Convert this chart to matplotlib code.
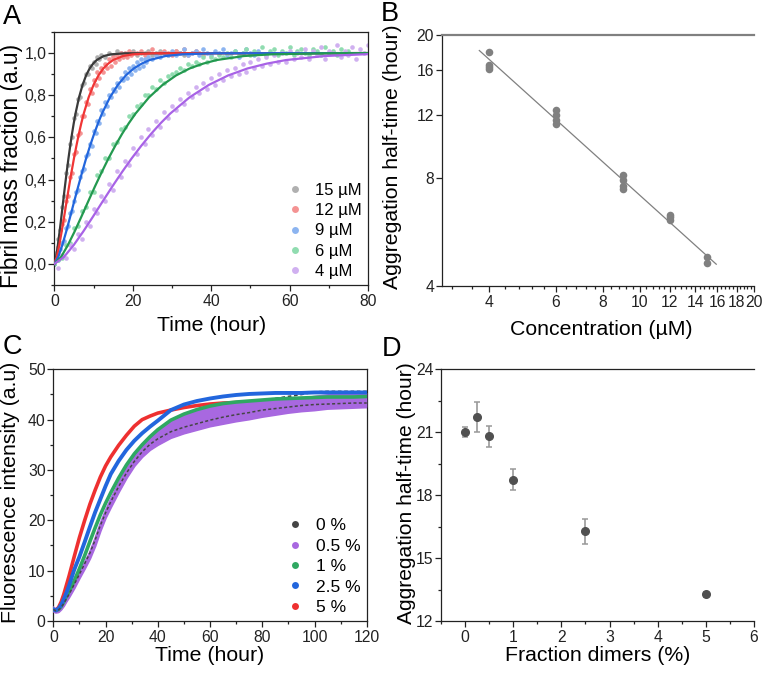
import matplotlib
matplotlib.use('Agg')
import matplotlib.pyplot as plt
from matplotlib.ticker import MultipleLocator, FixedLocator, FuncFormatter, NullFormatter
from matplotlib.lines import Line2D

plt.rcParams['font.family'] = ['Liberation Sans', 'DejaVu Sans']

# ---------------- Panel A data ----------------
conc_labels = ['15 µM', '12 µM', '9 µM', '6 µM', '4 µM']

# fitted curves (time, fraction)
fitA_t_15 = [0, .45, .9, 1.35, 1.8, 2.25, 2.7, 3.15, 3.6, 4.05, 4.5, 4.95, 5.4, 6.3, 7.2, 8.1, 9.0, 9.9, 10.8, 12.6, 14.4, 18, 80]
fitA_y_15 = [0, .033, .089, .154, .224, .296, .367, .435, .5, .560, .616, .667, .713, .790, .849, .894, .927, .950, .967, .986, .994, .999, 1.0]
fitA_t_12 = [0, .625, 1.25, 1.875, 2.5, 3.125, 3.75, 4.375, 5, 5.625, 6.25, 6.875, 7.5, 8.75, 10, 11.25, 12.5, 13.75, 15, 17.5, 20, 25, 80]
fitA_y_12 = [0, .033, .089, .154, .224, .296, .367, .435, .5, .560, .616, .667, .713, .790, .849, .894, .927, .950, .967, .986, .994, .999, 1.0]
fitA_t_9 = [0, 1.01, 2.03, 3.04, 4.05, 5.06, 6.08, 7.09, 8.1, 9.11, 10.13, 11.14, 12.15, 14.18, 16.2, 18.23, 20.25, 22.28, 24.3, 28.35, 32.4, 40.5, 80]
fitA_y_9 = [0, .033, .089, .154, .224, .296, .367, .435, .5, .560, .616, .667, .713, .790, .849, .894, .927, .950, .967, .986, .994, .999, 1.0]
fitA_t_6 = [0, 1.73, 3.45, 5.18, 6.9, 8.63, 10.35, 12.08, 13.8, 15.53, 17.25, 18.98, 20.7, 24.15, 27.6, 31.05, 34.5, 37.95, 41.4, 48.3, 55.2, 69, 80]
fitA_y_6 = [0, .033, .089, .154, .224, .296, .367, .435, .5, .560, .616, .667, .713, .790, .849, .894, .927, .950, .967, .986, .994, .999, 1.0]
fitA_t_4 = [0, 2.46, 4.93, 7.39, 9.85, 12.31, 14.78, 17.24, 19.7, 22.16, 24.63, 27.09, 29.55, 34.48, 39.4, 44.33, 49.25, 54.18, 59.1, 68.95, 78.8, 80]
fitA_y_4 = [0, .033, .089, .154, .224, .296, .367, .435, .5, .560, .616, .667, .713, .790, .849, .894, .927, .950, .967, .986, .994, .995]

# measured points
datA_t_15 = [0, .5, 1, 1.5, 2, 2.5, 3, 3.5, 4, 4.5, 5, 5.5, 6, 6.5, 7, 7.5, 8, 8.5, 9, 9.5, 10, 10.5, 11, 11.5, 12,
             13, 14, 15, 16, 17, 18, 19, 20, 21, 22, 23, 24, 25, 26, 27, 28, 29, 30, 31, 32, 33]
datA_y_15 = [0.00, 0.05, 0.12, 0.16, 0.27, 0.32, 0.43, 0.47, 0.57, 0.60, 0.69, 0.71, 0.78, 0.79, 0.85, 0.86, 0.90, 0.90,
             0.94, 0.93, 0.96, 0.95, 0.98, 0.97, 0.99,
             0.98, 1.00, 0.99, 1.01, 1.00, 0.99, 1.00, 1.01, 0.99, 1.00, 1.00, 1.01, 0.99, 1.00, 1.01, 1.00, 0.99, 1.00,
             1.01, 1.00, 0.99]
datA_t_12 = [0, .5, 1, 1.5, 2, 2.5, 3, 3.5, 4, 4.5, 5, 5.5, 6, 6.5, 7, 7.5, 8, 8.5, 9, 9.5, 10, 10.5, 11, 11.5, 12,
             12.5, 13, 13.5, 14, 14.5, 15, 15.5, 16, 16.5, 17, 17.5, 18, 18.5, 19, 19.5, 20,
             21, 22, 23, 24, 25, 26, 27, 28, 29, 30, 31, 32, 33, 34, 35, 36, 37, 38]
datA_y_12 = [0.01, 0.02, 0.08, 0.10, 0.19, 0.21, 0.30, 0.32, 0.41, 0.43, 0.52, 0.53, 0.61, 0.62, 0.70, 0.70, 0.77, 0.76,
             0.83, 0.81, 0.87, 0.85, 0.91, 0.88, 0.93, 0.91, 0.95, 0.93, 0.97, 0.94, 0.98, 0.96, 0.99, 0.97, 1.00, 0.98,
             1.00, 0.98, 1.01, 0.99, 1.00,
             1.00, 1.01, 0.99, 1.00, 1.02, 0.99, 1.00, 1.01, 1.00, 0.99, 1.01, 1.00, 1.02, 0.99, 1.00, 1.01, 1.00, 0.99]
datA_t_9 = [0, .5, 1, 1.5, 2, 2.5, 3, 3.5, 4, 4.5, 5, 5.5, 6, 6.5, 7, 7.5, 8, 8.5, 9, 9.5, 10, 10.5, 11, 11.5, 12,
            12.5, 13, 13.5, 14, 14.5, 15, 15.5, 16, 16.5, 17, 17.5, 18, 18.5, 19, 19.5, 20, 20.5, 21, 21.5, 22, 22.5,
            23, 23.5, 24,
            25, 26, 27, 28, 29, 30, 31, 32, 33, 34, 35, 36, 37, 38, 39, 40, 41, 42, 43, 44, 45, 46, 47, 48, 49, 50, 51, 52]
datA_y_9 = [0.00, 0.02, 0.02, 0.07, 0.10, 0.11, 0.17, 0.18, 0.24, 0.25, 0.30, 0.34, 0.35, 0.41, 0.44, 0.45, 0.51, 0.52,
            0.57, 0.56, 0.63, 0.62, 0.68, 0.67, 0.73, 0.71, 0.77, 0.75, 0.80, 0.79, 0.83, 0.82, 0.86, 0.84, 0.88, 0.87,
            0.91, 0.88, 0.93, 0.90, 0.94, 0.92, 0.96, 0.93, 0.97, 0.94, 0.97, 0.96, 0.98,
            0.97, 0.99, 0.98, 1.00, 0.99, 1.01, 0.99, 1.00, 1.02, 0.99, 1.00, 1.01, 0.99, 1.02, 1.00, 0.99, 1.01, 1.00,
            1.02, 0.99, 1.00, 1.01, 0.98, 1.00, 1.02, 1.00, 0.99, 1.01]
datA_t_6 = list(range(0, 76))
datA_y_6 = [0.00, 0.02, 0.03, 0.09, 0.10, 0.17, 0.18, 0.25, 0.27, 0.34, 0.34, 0.42, 0.44, 0.50, 0.50, 0.57, 0.58, 0.64,
            0.65, 0.70, 0.71, 0.75, 0.76, 0.80, 0.80, 0.84, 0.83, 0.87, 0.86, 0.89, 0.90, 0.91, 0.93, 0.92, 0.95, 0.94,
            0.96, 0.95, 0.98, 0.96, 0.98, 0.97, 0.99, 0.98, 1.00, 0.98, 1.01, 0.99, 1.00, 1.02, 0.99, 1.01, 1.00, 1.03,
            0.99, 1.01, 1.02, 0.99, 1.01, 1.00, 1.03, 0.99, 1.01, 1.02, 1.00, 0.99, 1.02, 1.01, 0.99, 1.03, 1.00, 1.01,
            0.99, 1.02, 1.00, 1.01]
datA_t_4 = list(range(0, 81))
datA_y_4 = [0.01, -0.02, 0.04, 0.03, 0.09, 0.07, 0.14, 0.12, 0.20, 0.18, 0.26, 0.24, 0.32, 0.30, 0.38, 0.35, 0.44, 0.41,
            0.49, 0.47, 0.55, 0.52, 0.60, 0.57, 0.64, 0.61, 0.68, 0.65, 0.72, 0.69, 0.75, 0.73, 0.78, 0.76, 0.81, 0.79,
            0.84, 0.81, 0.86, 0.83, 0.88, 0.85, 0.90, 0.87, 0.92, 0.89, 0.93, 0.90, 0.95, 0.91, 0.96, 0.93, 0.97, 0.94,
            0.98, 0.95, 0.99, 0.96, 1.00, 0.96, 1.01, 0.97, 1.00, 0.98, 1.02, 0.97, 1.01, 0.99, 1.03, 0.97, 1.01, 1.00,
            1.04, 0.98, 1.01, 0.99, 1.03, 0.97, 1.02, 1.00, 1.04]

# ---------------- Panel B data ----------------
b_conc = [4, 4, 4, 4, 6, 6, 6, 6, 9, 9, 9, 9, 12, 12, 12, 15, 15]
b_thalf = [17.96, 16.49, 16.25, 16.04, 12.34, 11.95, 11.57, 11.33, 8.14, 7.87, 7.61, 7.45, 6.32, 6.22, 6.11, 4.82, 4.63]
b_fit_x = [3.77, 15.9]
b_fit_y = [18.1, 4.6]
b_xticks = [4, 6, 8, 10, 12, 14, 16, 18, 20]
b_yticks = [4, 8, 12, 16, 20]

# ---------------- Panel C data ----------------
c_labels = ['0 %', '0.5 %', '1 %', '2.5 %', '5 %']
c_t = [0, 1, 2, 3, 4, 5, 6, 8, 10, 12, 14, 16, 18, 20, 22, 25, 28, 31, 34, 37, 40, 45, 50, 55, 60, 65, 70, 75, 80,
       85, 90, 95, 100, 105, 110, 115, 120]
c_red = [2.3, 2.2, 2.7, 3.8, 5.3, 7.1, 8.9, 12.8, 16.6, 20.0, 23.2, 26.0, 28.6, 30.8, 32.6, 34.9, 36.9, 38.7, 40.0,
         40.7, 41.3, 41.9, 42.4, 42.8, 43.1, 43.3, 43.4, 43.5, 43.5, 43.5, 43.4, 43.4, 43.3, 43.3, 43.2, 43.1, 43.0]
c_blue = [2.3, 2.1, 2.5, 3.2, 4.3, 5.6, 7.0, 10.2, 12.8, 15.7, 18.7, 21.6, 24.2, 26.8, 29.2, 31.8, 34.0, 35.8, 37.3,
          38.6, 39.8, 41.9, 43.0, 43.7, 44.2, 44.6, 44.9, 45.1, 45.2, 45.3, 45.3, 45.3, 45.4, 45.4, 45.4, 45.4, 45.4]
c_green = [2.3, 2.1, 2.3, 2.9, 3.8, 4.9, 5.8, 8.0, 10.4, 13.0, 15.8, 18.5, 21.1, 23.4, 25.5, 28.4, 31.0, 33.2, 35.0,
           36.6, 38.0, 39.9, 41.1, 42.0, 42.7, 43.2, 43.5, 43.7, 43.9, 44.1, 44.2, 44.3, 44.4, 44.5, 44.5, 44.5, 44.6]
c_purple_hi = [2.6, 2.3, 2.4, 2.9, 3.6, 4.5, 5.3, 7.3, 9.3, 11.4, 13.4, 16.1, 19.1, 21.7, 24.0, 27.2, 30.1, 32.6, 34.6,
               36.2, 37.6, 39.4, 40.6, 41.5, 42.2, 42.7, 43.1, 43.4, 43.6, 43.8, 44.0, 44.1, 44.5, 44.8, 45.0, 45.2, 45.4]
c_purple_lo = [2.0, 1.7, 1.8, 2.3, 3.0, 3.9, 4.7, 6.5, 8.5, 10.4, 12.4, 14.9, 17.9, 20.5, 22.6, 25.6, 28.4, 30.8, 32.6,
               34.0, 35.0, 36.4, 37.3, 38.0, 38.7, 39.2, 39.7, 40.1, 40.6, 41.0, 41.4, 41.7, 41.9, 42.2, 42.3, 42.4, 42.5]
c_grey_a = [2.3, 2.0, 2.2, 2.7, 3.5, 4.4, 5.3, 7.3, 9.3, 11.4, 13.5, 16.1, 19.0, 21.5, 23.7, 26.7, 29.4, 31.7, 33.6,
            35.1, 36.2, 37.6, 38.5, 39.2, 39.9, 40.5, 41.0, 41.4, 41.9, 42.2, 42.5, 42.8, 43.0, 43.1, 43.2, 43.3, 43.3]
c_grey_b = [2.3, 2.0, 2.2, 2.7, 3.5, 4.4, 5.3, 7.3, 9.3, 11.4, 13.5, 16.1, 19.0, 21.5, 23.7, 26.7, 29.4, 31.7, 33.6,
            35.1, 36.2, 39.5, 40.8, 41.7, 42.4, 42.9, 43.3, 43.6, 43.9, 44.2, 44.6, 45.0, 45.5, 45.6, 45.6, 45.6, 45.6]

# ---------------- Panel D data ----------------
d_frac = [0, 0.25, 0.5, 1, 2.5, 5]
d_thalf = [21.0, 21.72, 20.8, 18.74, 16.27, 13.27]
d_err = [0.24, 0.7, 0.5, 0.5, 0.6, 0.12]

# ---------------- styling ----------------
TICK_FS = 11.3
XL_FS = 15.3
SP = '#222222'

fig = plt.figure(figsize=(7.62, 6.75), dpi=100)
axA = fig.add_axes([0.0713, 0.5778, 0.4117, 0.3748])
axB = fig.add_axes([0.5797, 0.5763, 0.4098, 0.3719])
axC = fig.add_axes([0.0700, 0.0800, 0.4113, 0.3729])
axD = fig.add_axes([0.5787, 0.0800, 0.4108, 0.3729])

for ax in (axA, axB, axC, axD):
    ax.tick_params(which='both', direction='out', labelsize=TICK_FS, colors='#222222', width=0.9)
    ax.tick_params(which='major', length=4)
    ax.tick_params(which='minor', length=2.5)
    ax.tick_params(axis='y', which='both', pad=1.5)
    ax.tick_params(axis='x', which='both', pad=2.5)
    for s in ax.spines.values():
        s.set_color(SP)
        s.set_linewidth(0.9)

# ---- A ----
sc_cols = ['#b0b0b0', '#f49393', '#8cb4f0', '#90dcb0', '#d0b0f0']
ln_cols = ['#3a3a3a', '#f03535', '#2266dd', '#23994f', '#a862e6']
datA = [(datA_t_15, datA_y_15), (datA_t_12, datA_y_12), (datA_t_9, datA_y_9), (datA_t_6, datA_y_6), (datA_t_4, datA_y_4)]
fitA = [(fitA_t_15, fitA_y_15), (fitA_t_12, fitA_y_12), (fitA_t_9, fitA_y_9), (fitA_t_6, fitA_y_6), (fitA_t_4, fitA_y_4)]
for (t, y), c in zip(datA, sc_cols):
    axA.scatter(t, y, s=11, color=c, linewidths=0, zorder=2)
for (t, y), c in zip(fitA, ln_cols):
    axA.plot(t, y, color=c, lw=1.6, zorder=3)
axA.set_xlim(0, 80)
axA.set_ylim(-0.1, 1.1)
axA.xaxis.set_major_locator(MultipleLocator(20))
axA.xaxis.set_minor_locator(MultipleLocator(10))
axA.yaxis.set_major_locator(MultipleLocator(0.2))
axA.yaxis.set_minor_locator(MultipleLocator(0.1))
axA.yaxis.set_major_formatter(FuncFormatter(lambda v, p: f"{abs(v) if abs(v) < 1e-9 else v:.1f}".replace('.', ',')))
axA.set_xlabel('Time (hour)', fontsize=XL_FS)
axA.set_ylabel('Fibril mass fraction (a.u)', fontsize=16.4)
axA.xaxis.set_label_coords(0.5, -0.122)
axA.yaxis.set_label_coords(-0.1, 0.47)
hA = [Line2D([], [], ls='', marker='o', ms=5, color=c, mec='none') for c in sc_cols]
axA.legend(hA, conc_labels, loc='lower right', bbox_to_anchor=(1.0, 0.0), frameon=False, fontsize=12,
           handletextpad=0.6, labelspacing=0.32, handlelength=1.2, borderaxespad=0.05, borderpad=0.3)

# ---- B ----
axB.set_xscale('log')
axB.set_yscale('log')
axB.scatter(b_conc, b_thalf, s=30, color='#808080', linewidths=0, zorder=3)
axB.plot(b_fit_x, b_fit_y, color='#808080', lw=0.9, zorder=2)
axB.set_xlim(3, 20)
axB.set_ylim(4, 20)
axB.xaxis.set_major_locator(FixedLocator(b_xticks))
axB.xaxis.set_major_formatter(FuncFormatter(lambda v, p: f"{v:g}"))
axB.xaxis.set_minor_locator(MultipleLocator(0.4))
axB.xaxis.set_minor_formatter(NullFormatter())
axB.yaxis.set_major_locator(FixedLocator(b_yticks))
axB.yaxis.set_major_formatter(FuncFormatter(lambda v, p: f"{v:g}"))
axB.yaxis.set_minor_locator(FixedLocator([]))
axB.yaxis.set_minor_formatter(NullFormatter())
axB.spines['right'].set_visible(False)
axB.spines['top'].set_color('#808080')
axB.spines['top'].set_linewidth(1.6)
axB.set_xlabel('Concentration (µM)', fontsize=XL_FS)
axB.set_ylabel('Aggregation half-time (hour)', fontsize=15.3)
axB.xaxis.set_label_coords(0.51, -0.135)
axB.yaxis.set_label_coords(-0.127, 0.515)

# ---- C ----
cC = {'grey': '#454545', 'purple': '#a868e0', 'green': '#2fa862', 'blue': '#2266dd', 'red': '#ee3030'}
axC.plot(c_t, c_grey_b, color=cC['grey'], lw=1.3, ls=(0, (2, 1.5)), zorder=1)
axC.plot(c_t, c_red, color=cC['red'], lw=2.6, zorder=2)
axC.fill_between(c_t, c_purple_lo, c_purple_hi, color=cC['purple'], lw=0, zorder=3)
axC.plot(c_t, c_purple_lo, color=cC['purple'], lw=2.0, zorder=3)
axC.plot(c_t, c_purple_hi, color=cC['purple'], lw=2.0, zorder=3)
axC.plot(c_t, c_green, color=cC['green'], lw=2.6, zorder=4)
axC.plot(c_t, c_blue, color=cC['blue'], lw=2.8, zorder=5)
axC.plot(c_t, c_grey_a, color=cC['grey'], lw=1.1, ls=(0, (2, 1.5)), zorder=6)
axC.set_xlim(0, 120)
axC.set_ylim(0, 50)
axC.xaxis.set_major_locator(MultipleLocator(20))
axC.xaxis.set_minor_locator(MultipleLocator(10))
axC.yaxis.set_major_locator(MultipleLocator(10))
axC.yaxis.set_minor_locator(MultipleLocator(5))
axC.set_xlabel('Time (hour)', fontsize=XL_FS)
axC.set_ylabel('Fluorescence intensity (a.u)', fontsize=15.3)
axC.xaxis.set_label_coords(0.5, -0.099)
axC.yaxis.set_label_coords(-0.106, 0.51)
hC = [Line2D([], [], ls='', marker='o', ms=5, color=cC[k], mec='none')
      for k in ('grey', 'purple', 'green', 'blue', 'red')]
axC.legend(hC, c_labels, loc='lower right', bbox_to_anchor=(1.0, 0.0), frameon=False, fontsize=12.5,
           handletextpad=0.6, labelspacing=0.3, handlelength=1.2, borderaxespad=0.05, borderpad=0.3)

# ---- D ----
axD.errorbar(d_frac, d_thalf, yerr=d_err, fmt='o', ms=5.5, color='#505050', mec='#505050',
             ecolor='#999999', elinewidth=1.2, capsize=2.5, capthick=1.1, zorder=3)
axD.set_xlim(-0.5, 6)
axD.set_ylim(12, 24)
axD.xaxis.set_major_locator(MultipleLocator(1))
axD.xaxis.set_minor_locator(MultipleLocator(0.5))
axD.yaxis.set_major_locator(MultipleLocator(3))
axD.yaxis.set_minor_locator(MultipleLocator(1.5))
axD.spines['right'].set_visible(False)
axD.set_xlabel('Fraction dimers (%)', fontsize=XL_FS)
axD.set_ylabel('Aggregation half-time (hour)', fontsize=15.1)
axD.xaxis.set_label_coords(0.5, -0.099)
axD.yaxis.set_label_coords(-0.08, 0.51)

# panel letters
for x, y, s in [(3, 4, 'A'), (381, 1, 'B'), (3, 334, 'C'), (382, 336, 'D')]:
    fig.text(x / 762, 1 - y / 675, s, fontsize=19.5, ha='left', va='top')

fig.savefig('out.png', dpi=100)
